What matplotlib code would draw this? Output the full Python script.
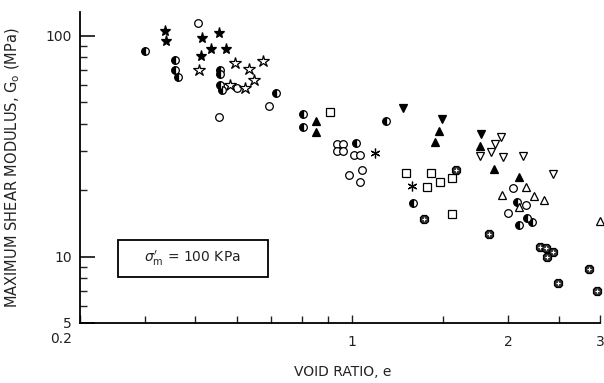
import numpy as np
import matplotlib
matplotlib.use('Agg')
import matplotlib.pyplot as plt
from matplotlib.ticker import FixedLocator, NullFormatter
from matplotlib.patches import Rectangle

# 数据：每种符号一组 (void ratio e, G0 in MPa)
half_e = [0.40, 0.457, 0.457, 0.463, 0.557, 0.557, 0.557, 0.562, 0.714, 0.805, 0.805,
          1.018, 1.162, 1.31, 2.076, 2.10, 2.17, 2.22]
half_g = [85, 78, 70, 65, 70, 67, 60, 56.5, 55, 44, 38.5,
          32.6, 41, 17.5, 17.7, 13.9, 15.0, 14.4]

ocirc_e = [0.506, 0.601, 0.692, 0.555, 0.936, 0.961, 0.936, 0.961, 1.009, 1.036,
           0.987, 1.045, 1.036, 2.04, 1.995, 2.16]
ocirc_g = [114, 58, 48, 43, 32.3, 32.3, 30, 30, 28.8, 28.8,
           23.4, 24.7, 21.8, 20.5, 15.8, 17.1]

fstar_e = [0.437, 0.439, 0.515, 0.555, 0.536, 0.573, 0.513]
fstar_g = [105, 95, 98, 103, 87, 87, 81]

ostar_e = [0.508, 0.596, 0.634, 0.674, 0.648, 0.582, 0.623]
ostar_g = [70, 75, 71, 77, 63, 60, 58]

osq_e = [0.907, 1.27, 1.419, 1.476, 1.394, 1.557, 1.557]
osq_g = [45, 23.9, 23.9, 21.8, 20.7, 22.7, 15.5]

fup_e = [0.853, 0.853, 1.47, 1.444, 1.763, 1.875, 2.094]
fup_g = [41, 36.6, 37, 33, 31.6, 24.9, 22.9]

fdn_e = [1.253, 1.49, 1.771]
fdn_g = [47, 42, 35.8]

odn_e = [1.763, 1.884, 1.935, 1.85, 1.951, 2.132, 2.437]
odn_g = [28.5, 32.3, 34.7, 29.7, 28.2, 28.5, 23.7]

oup_e = [2.161, 1.943, 2.239, 2.34, 2.094, 3.0]
oup_g = [20.7, 19.0, 18.8, 18.1, 16.8, 14.5]

ast_e = [1.107, 1.304]
ast_g = [29.4, 20.9]

sun_e = [1.585, 1.375, 1.834, 2.30, 2.36, 2.44, 2.37, 2.855, 2.49, 2.96]
sun_g = [24.7, 14.8, 12.6, 11.1, 10.9, 10.5, 10.0, 8.8, 7.55, 7.0]

fig = plt.figure(figsize=(6.04, 3.83), dpi=100)
ax = fig.add_axes([80 / 604, 1 - 323 / 383, 520 / 604, 311 / 383])
ax.set_xscale('log')
ax.set_yscale('log')
ax.set_xlim(0.3, 3.0)
ax.set_ylim(5, 128)

k = dict(linestyle='none', color='black', clip_on=False, markeredgewidth=0.9)
ax.plot(half_e, half_g, 'o', ms=5.5, fillstyle='left', markerfacecoloralt='white', **k)
ax.plot(ocirc_e, ocirc_g, 'o', ms=5.5, markerfacecolor='white', **k)
ax.plot(fstar_e, fstar_g, '*', ms=8, **k)
ax.plot(ostar_e, ostar_g, '*', ms=9, markerfacecolor='white', **k)
ax.plot(osq_e, osq_g, 's', ms=5.5, markerfacecolor='white', **k)
ax.plot(fup_e, fup_g, '^', ms=6, **k)
ax.plot(fdn_e, fdn_g, 'v', ms=6, **k)
ax.plot(odn_e, odn_g, 'v', ms=6, markerfacecolor='white', **k)
ax.plot(oup_e, oup_g, '^', ms=6, markerfacecolor='white', **k)
ax.plot(ast_e, ast_g, marker=(6, 2, 0), ms=7, **k)
ax.plot(sun_e, sun_g, '8', ms=6, markerfacecolor='0.2', **k)
ax.plot(sun_e, sun_g, '+', ms=3, color='white', linestyle='none', markeredgewidth=0.8, clip_on=False)

# 坐标轴
for s in ['top', 'right']:
    ax.spines[s].set_visible(False)
for s in ['left', 'bottom']:
    ax.spines[s].set_linewidth(1.3)

ax.xaxis.set_major_locator(FixedLocator([0.3, 1, 2, 3]))
ax.xaxis.set_minor_locator(FixedLocator([0.4, 0.5, 0.6, 0.7, 0.8, 0.9, 1.5, 2.5]))
ax.set_xticklabels(['', '1', '2', '3'])
ax.xaxis.set_minor_formatter(NullFormatter())
ax.yaxis.set_major_locator(FixedLocator([5, 10, 100]))
ax.yaxis.set_minor_locator(FixedLocator([6, 7, 8, 9, 20, 30, 40, 50, 60, 70, 80, 90]))
ax.set_yticklabels(['5', '10', '100'])
ax.yaxis.set_minor_formatter(NullFormatter())
ax.tick_params(axis='both', which='both', direction='in', labelsize=10, colors='#222222')
ax.tick_params(axis='y', which='major', length=11, width=1.3, pad=6)
ax.tick_params(axis='y', which='minor', length=5, width=1.0)
ax.tick_params(axis='x', which='major', length=6, width=1.0, pad=9)
ax.tick_params(axis='x', which='minor', length=5, width=1.0)

ax.text(-0.015, -0.05, '0.2', transform=ax.transAxes, ha='right', va='center',
        fontsize=10, color='#222222')

ax.set_xlabel('VOID RATIO, e', fontsize=10, color='#222222')
ax.xaxis.set_label_coords(0.505, -0.135)
ax.set_ylabel('MAXIMUM SHEAR MODULUS, G$_\\mathrm{o}$ (MPa)', fontsize=10.5, color='#222222')
ax.yaxis.set_label_coords(-0.112, 0.5)

# 说明框
ax.add_patch(Rectangle((0.073, 0.148), 0.288, 0.119, transform=ax.transAxes,
                       fill=False, edgecolor='black', linewidth=1.3))
ax.text(0.217, 0.207, r"$\sigma_\mathrm{m}^{\prime}$ = 100 KPa", transform=ax.transAxes,
        ha='center', va='center', fontsize=10, color='#222222')

fig.savefig('out.png', dpi=100)
